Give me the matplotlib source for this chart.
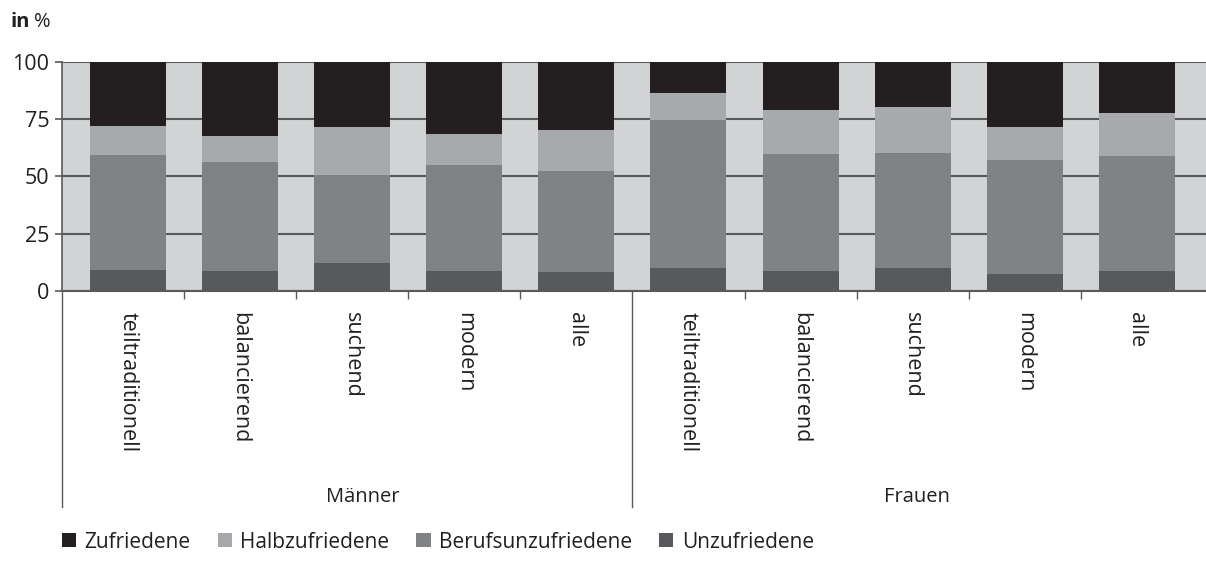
import matplotlib
matplotlib.use("Agg")
import matplotlib.pyplot as plt
from matplotlib.patches import Patch
import numpy as np

categories = ["teiltraditionell", "balancierend", "suchend", "modern", "alle",
              "teiltraditionell", "balancierend", "suchend", "modern", "alle"]
groups = ["Männer", "Frauen"]
series_names = ["Zufriedene", "Halbzufriedene", "Berufsunzufriedene", "Unzufriedene"]
unzufriedene = [9.2, 8.9, 12.2, 8.9, 8.3, 10.1, 8.9, 10.1, 7.4, 8.7]
berufsunzufriedene = [50.0, 47.5, 38.5, 46.2, 44.2, 64.7, 51.0, 50.2, 49.9, 50.3]
halbzufriedene = [12.8, 11.5, 21.0, 13.5, 17.9, 11.8, 19.2, 20.0, 14.5, 18.8]
zufriedene = [28.0, 32.1, 28.3, 31.4, 29.6, 13.4, 20.9, 19.7, 28.2, 22.2]
yticks = [0, 25, 50, 75, 100]

colors = {"Zufriedene": "#231f20", "Halbzufriedene": "#a7a9ac",
          "Berufsunzufriedene": "#808285", "Unzufriedene": "#58595b"}
text_color = "#231f20"
line_color = "#58595b"

plt.rcParams['font.family'] = ['Open Sans', 'DejaVu Sans']

W, H = 1206, 572
fig = plt.figure(figsize=(W / 100, H / 100), dpi=100)
ax = fig.add_axes([62 / W, 1 - 291 / H, (W - 62) / W, 229 / H])
ax.set_facecolor("#d1d3d4")

x = np.arange(len(categories))
width = 0.678
bottom = np.zeros(len(categories))
stack = [("Unzufriedene", unzufriedene), ("Berufsunzufriedene", berufsunzufriedene),
         ("Halbzufriedene", halbzufriedene), ("Zufriedene", zufriedene)]
for name, vals in stack:
    ax.bar(x, vals, width, bottom=bottom, color=colors[name], zorder=3)
    bottom = bottom + np.array(vals)

x0, x1 = -0.589, 9.617
ax.set_ylim(0, 100)
ax.set_xlim(x0, x1)
ax.set_yticks(yticks)
ax.set_yticklabels([str(v) for v in yticks], fontsize=15.5, color=text_color)
ax.yaxis.grid(True, color=line_color, linewidth=1.5, zorder=1)
ax.set_axisbelow(True)
ax.tick_params(axis='y', length=5, width=1.2, color=line_color, pad=4)

# category boundary ticks
bounds = [0.5, 1.5, 2.5, 3.5, 5.5, 6.5, 7.5, 8.5]
ax.set_xticks(bounds)
ax.set_xticklabels([])
ax.tick_params(axis='x', length=6, width=1.0, color=line_color, direction='out')

for s in ["top", "right"]:
    ax.spines[s].set_visible(False)
ax.spines["left"].set_color(line_color)
ax.spines["bottom"].set_color(line_color)
ax.spines["left"].set_linewidth(1.2)
ax.spines["bottom"].set_linewidth(1.5)

# group separator lines extending below axis
trans = ax.get_xaxis_transform()
ext = -(507 - 291) / 229
for xs in [x0, 4.5]:
    ax.plot([xs, xs], [0, ext], transform=trans, color=line_color,
            linewidth=1.0, clip_on=False)

# category labels
ytop = -(312 - 291) / 229
for xi, lab in zip(x, categories):
    ax.text(xi, ytop, lab, transform=trans, rotation=270, ha='center', va='top',
            fontsize=15.5, color=text_color)

# group labels
px_per_cat = (W - 62) / (x1 - x0)
def px_to_data(px):
    return x0 + (px - 62) / px_per_cat
ygrp = -(497 - 291) / 229
for g, cpx in zip(groups, [363, 917]):
    ax.text(px_to_data(cpx), ygrp, g, transform=trans, ha='center', va='center',
            fontsize=14.5, color=text_color)

# "in %" label
fig.text(11 / W, 1 - 22 / H, "in", fontsize=14.5, fontweight='bold', color=text_color,
         ha='left', va='center')
fig.text(34 / W, 1 - 22 / H, "%", fontsize=14.5, color=text_color, ha='left', va='center')

handles = [Patch(facecolor=colors[n], edgecolor='none', label=n) for n in series_names]
fig.legend(handles=handles, loc='center left', bbox_to_anchor=(62 / W, 1 - 542 / H),
           ncol=4, frameon=False, fontsize=15, handlelength=0.68, handleheight=0.68,
           handletextpad=0.4, columnspacing=1.3, borderaxespad=0, borderpad=0,
           labelcolor=text_color)

fig.savefig("out.png", dpi=100)
